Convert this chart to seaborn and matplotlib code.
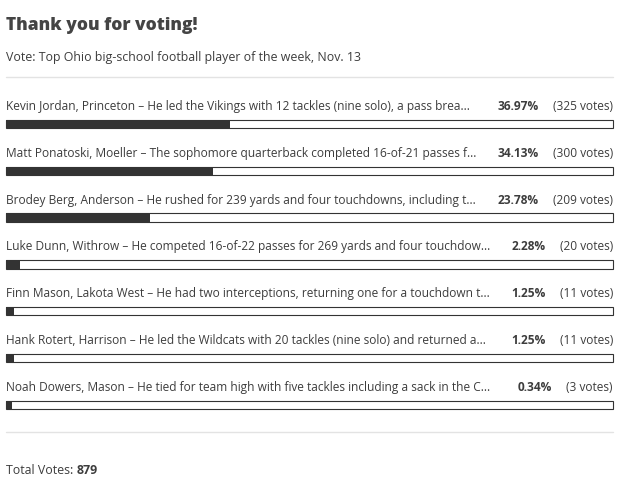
import pandas as pd
import matplotlib
matplotlib.use('Agg')
import matplotlib.pyplot as plt
import seaborn as sns

# poll data
labels = [
    "Kevin Jordan, Princeton – He led the Vikings with 12 tackles (nine solo), a pass brea...",
    "Matt Ponatoski, Moeller – The sophomore quarterback completed 16-of-21 passes f...",
    "Brodey Berg, Anderson – He rushed for 239 yards and four touchdowns, including t...",
    "Luke Dunn, Withrow – He competed 16-of-22 passes for 269 yards and four touchdow...",
    "Finn Mason, Lakota West – He had two interceptions, returning one for a touchdown t...",
    "Hank Rotert, Harrison – He led the Wildcats with 20 tackles (nine solo) and returned a...",
    "Noah Dowers, Mason – He tied for team high with five tackles including a sack in the C...",
]
percents = [36.97, 34.13, 23.78, 2.28, 1.25, 1.25, 0.34]
votes = [325, 300, 209, 20, 11, 11, 3]
total_votes = 879

title = "Thank you for voting!"
subtitle = "Vote: Top Ohio big-school football player of the week, Nov. 13"

df = pd.DataFrame({'label': labels, 'pct': percents, 'votes': votes})
df['full'] = 100
# the web widget keeps a small minimum fill width
df['shown'] = df['pct'].clip(lower=1.0)

sns.set_style('white')
plt.rcParams['font.family'] = ['Open Sans', 'DejaVu Sans']

W, H = 637, 491
fig = plt.figure(figsize=(W / 100, H / 100), dpi=100)
ax = fig.add_axes([0, 0, 1, 1])

dark = '#333333'
txt = '#3d3d3d'

sns.barplot(data=df, x='full', y='label', color='white', edgecolor=dark,
            linewidth=0.8, width=0.18, orient='h', ax=ax, saturation=1)
sns.barplot(data=df, x='shown', y='label', color=dark, edgecolor=dark,
            linewidth=0.0, width=0.18, orient='h', ax=ax, saturation=1)

# map data to pixels: x 0..100 -> 6..613 px, row i -> 124 + 46.8*i px
x0, x1 = 6, 613
sx = (x1 - x0) / 100
ax.set_xlim(-x0 / sx, (W - x0) / sx)
y0, dy = 124, 46.8
ax.set_ylim((H - y0) / dy, -y0 / dy)
ax.axis('off')

fig.canvas.draw()
renderer = fig.canvas.get_renderer()
fs = 8.9      # header / footer text
fs_row = 8.6  # option rows (narrower so labels clear the numbers)
for i, row in df.iterrows():
    ty = i - 17.5 / dy
    ax.text(0, ty, row['label'], fontsize=fs_row, color=txt, va='center', ha='left')
    vt = ax.text(100, ty, f"({row['votes']} votes)", fontsize=fs_row, color=txt,
                 va='center', ha='right')
    wpx = vt.get_window_extent(renderer).width
    ax.text(100 - (wpx + 14) / sx, ty, f"{row['pct']:.2f}%", fontsize=fs_row,
            color=txt, fontweight='bold', va='center', ha='right')

# header
fig.text(x0 / W, 1 - 26 / H, title, fontsize=12.5, fontweight='heavy',
         color='#444444', va='center', ha='left')
fig.text(x0 / W, 1 - 57 / H, subtitle, fontsize=fs, color=txt,
         va='center', ha='left')

# separators
for yy in (77, 432):
    fig.add_artist(plt.Line2D([x0 / W, x1 / W], [1 - yy / H, 1 - yy / H],
                              color='#e3e3e3', linewidth=1))

# footer
t = fig.text(x0 / W, 1 - 470 / H, "Total Votes: ", fontsize=fs, color=txt,
             va='center', ha='left')
tw = t.get_window_extent(renderer).width
fig.text((x0 + tw) / W, 1 - 470 / H, str(total_votes), fontsize=fs,
         color=txt, fontweight='bold', va='center', ha='left')

fig.savefig('out.png', dpi=100)
